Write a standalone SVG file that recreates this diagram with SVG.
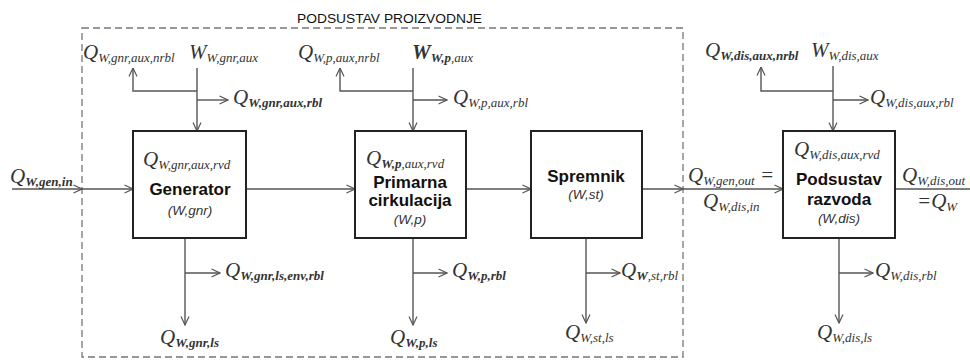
<svg xmlns="http://www.w3.org/2000/svg" width="970" height="363" viewBox="0 0 970 363">
<defs>
<marker id="ah" viewBox="0 0 10 10" refX="9.5" refY="5" markerWidth="10" markerHeight="10" markerUnits="userSpaceOnUse" orient="auto">
<path d="M1,1 L9.5,5 L1,9" fill="none" stroke="#555" stroke-width="1.2"/>
</marker>
<style>
.ln{fill:none;stroke:#555;stroke-width:1.4}
.box{fill:#fff;stroke:#222;stroke-width:2}
.dash{fill:none;stroke:#777;stroke-width:1.3;stroke-dasharray:7,4}
.q{font-family:"Liberation Serif",serif;font-style:italic;font-size:21px;fill:#333}
.s{font-size:13px}
.b{font-weight:bold}
.t{font-family:"Liberation Sans",Arial,sans-serif;font-weight:bold;font-size:17px;fill:#111;text-anchor:middle}
.c{font-family:"Liberation Sans",Arial,sans-serif;font-style:italic;font-size:13.5px;fill:#333;text-anchor:middle}
.ti{font-family:"Liberation Sans",Arial,sans-serif;font-size:13px;fill:#111}
</style>
</defs>
<rect width="970" height="363" fill="#fff"/>
<g id="subsystem">
<rect class="dash" x="82" y="28" width="601" height="329"/>
<text class="ti" x="297" y="23" textLength="185" lengthAdjust="spacingAndGlyphs">PODSUSTAV PROIZVODNJE</text>
</g>
<g id="connectors">
<path class="ln" d="M12,189 H82" marker-end="url(#ah)"/>
<path class="ln" d="M82,189 H133" marker-end="url(#ah)"/>
<path class="ln" d="M246,189 H355" marker-end="url(#ah)"/>
<path class="ln" d="M466,189 H531" marker-end="url(#ah)"/>
<path class="ln" d="M642,189 H683" marker-end="url(#ah)"/>
<path class="ln" d="M683,189 H783" marker-end="url(#ah)"/>
<path class="ln" d="M895,189 H970"/>
<path class="ln" d="M197,68 V131" marker-end="url(#ah)"/>
<path class="ln" d="M197,91 H133 V68" marker-end="url(#ah)"/>
<path class="ln" d="M197,100 H228" marker-end="url(#ah)"/>
<path class="ln" d="M413,68 V131" marker-end="url(#ah)"/>
<path class="ln" d="M413,91 H340 V68" marker-end="url(#ah)"/>
<path class="ln" d="M413,100 H447" marker-end="url(#ah)"/>
<path class="ln" d="M833,66 V131" marker-end="url(#ah)"/>
<path class="ln" d="M833,91 H761 V67" marker-end="url(#ah)"/>
<path class="ln" d="M833,100 H868" marker-end="url(#ah)"/>
<path class="ln" d="M185,238 V325" marker-end="url(#ah)"/>
<path class="ln" d="M185,273 H220" marker-end="url(#ah)"/>
<path class="ln" d="M413,238 V325" marker-end="url(#ah)"/>
<path class="ln" d="M413,273 H447" marker-end="url(#ah)"/>
<path class="ln" d="M586,238 V323" marker-end="url(#ah)"/>
<path class="ln" d="M586,273 H620" marker-end="url(#ah)"/>
<path class="ln" d="M839,238 V323" marker-end="url(#ah)"/>
<path class="ln" d="M839,273 H873" marker-end="url(#ah)"/>
</g>
<g id="generator">
<rect class="box" x="133" y="131" width="113" height="107"/>
<text class="q" x="143" y="166">Q<tspan class="s" dy="3">W,gnr,aux,rvd</tspan></text>
<text class="t" x="190" y="195">Generator</text>
<text class="c" x="190" y="215">(W,gnr)</text>
</g>
<g id="primarna">
<rect class="box" x="355" y="131" width="111" height="107"/>
<text class="q" x="366" y="165">Q<tspan class="s b" dy="3">W,p</tspan><tspan class="s">,aux,rvd</tspan></text>
<text class="t" x="410" y="188">Primarna</text>
<text class="t" x="410" y="206">cirkulacija</text>
<text class="c" x="410" y="224">(W,p)</text>
</g>
<g id="spremnik">
<rect class="box" x="531" y="131" width="111" height="107"/>
<text class="t" x="586" y="182">Spremnik</text>
<text class="c" x="586" y="199">(W,st)</text>
</g>
<g id="razvod">
<rect class="box" x="783" y="131" width="112" height="107"/>
<text class="q" x="794" y="156">Q<tspan class="s" dy="3">W,dis,aux,rvd</tspan></text>
<text class="t" x="839" y="185">Podsustav</text>
<text class="t" x="839" y="205">razvoda</text>
<text class="c" x="839" y="223">(W,dis)</text>
</g>
<g id="labels">
<text class="q" x="10" y="183">Q<tspan class="s b" dy="3">W,gen,in</tspan></text>
<text class="q" x="83" y="59">Q<tspan class="s" dy="3">W,gnr,aux,nrbl</tspan></text>
<text class="q" x="189" y="59">W<tspan class="s" dy="3">W,gnr,aux</tspan></text>
<text class="q" x="233" y="104">Q<tspan class="s b" dy="3">W,gnr,aux,rbl</tspan></text>
<text class="q" x="298" y="59">Q<tspan class="s" dy="3">W,p,aux,nrbl</tspan></text>
<text class="q b" x="412" y="59">W<tspan class="s" dy="3">W,p</tspan><tspan class="s" style="font-weight:normal">,aux</tspan></text>
<text class="q" x="453" y="104">Q<tspan class="s" dy="3">W,p,aux,rbl</tspan></text>
<text class="q" x="705" y="57">Q<tspan class="s b" dy="3">W,dis,aux,nrbl</tspan></text>
<text class="q" x="811" y="57">W<tspan class="s" dy="3">W,dis,aux</tspan></text>
<text class="q" x="870" y="104">Q<tspan class="s" dy="3">W,dis,aux,rbl</tspan></text>
<text class="q" x="225" y="277">Q<tspan class="s b" dy="3">W,gnr,ls,env,rbl</tspan></text>
<text class="q" x="160" y="344">Q<tspan class="s b" dy="3">W,gnr,ls</tspan></text>
<text class="q" x="452" y="277">Q<tspan class="s b" dy="3">W,p,rbl</tspan></text>
<text class="q" x="390" y="344">Q<tspan class="s b" dy="3">W,p,ls</tspan></text>
<text class="q" x="621" y="277">Q<tspan class="s b" dy="3">W</tspan><tspan class="s">,st,rbl</tspan></text>
<text class="q" x="565" y="339">Q<tspan class="s" dy="3">W,st,ls</tspan></text>
<text class="q" x="875" y="277">Q<tspan class="s" dy="3">W,dis,rbl</tspan></text>
<text class="q" x="817" y="339">Q<tspan class="s" dy="3">W,dis,ls</tspan></text>
<text class="q" x="688" y="182">Q<tspan class="s" dy="3">W,gen,out</tspan><tspan dy="-3"> =</tspan></text>
<text class="q" x="703" y="208">Q<tspan class="s" dy="3">W,dis,in</tspan></text>
<text class="q" x="902" y="182">Q<tspan class="s" dy="3">W,dis,out</tspan></text>
<text class="q" x="917" y="208">=Q<tspan class="s" dy="3">W</tspan></text>
</g>
</svg>
